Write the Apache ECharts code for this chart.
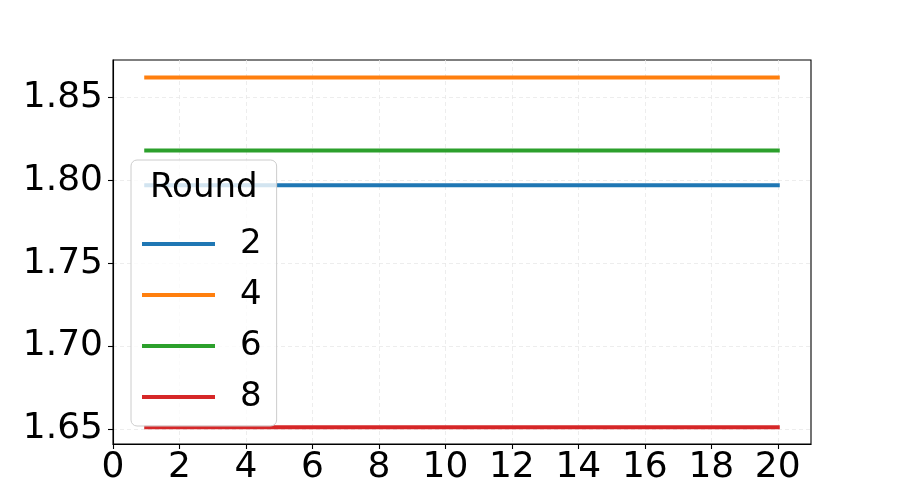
<!DOCTYPE html>
<html>
<head>
<meta charset="utf-8">
<script src="https://cdn.jsdelivr.net/npm/echarts@6/dist/echarts.min.js"></script>
<style>html,body{margin:0;padding:0;background:#fff}#c{width:900px;height:500px}</style>
</head>
<body>
<div id="c"></div>
<script>
const steps = [1,2,3,4,5,6,7,8,9,10,11,12,13,14,15,16,17,18,19,20];
const roundNames = ['2','4','6','8'];
const round2 = [1.797,1.797,1.797,1.797,1.797,1.797,1.797,1.797,1.797,1.797,1.797,1.797,1.797,1.797,1.797,1.797,1.797,1.797,1.797,1.797];
const round4 = [1.862,1.862,1.862,1.862,1.862,1.862,1.862,1.862,1.862,1.862,1.862,1.862,1.862,1.862,1.862,1.862,1.862,1.862,1.862,1.862];
const round6 = [1.818,1.818,1.818,1.818,1.818,1.818,1.818,1.818,1.818,1.818,1.818,1.818,1.818,1.818,1.818,1.818,1.818,1.818,1.818,1.818];
const round8 = [1.651,1.651,1.651,1.651,1.651,1.651,1.651,1.651,1.651,1.651,1.651,1.651,1.651,1.651,1.651,1.651,1.651,1.651,1.651,1.651];
const xTicks = [0,2,4,6,8,10,12,14,16,18,20];
const yTicks = [1.65,1.70,1.75,1.80,1.85];
const colors = ['#1f77b4','#ff7f0e','#2ca02c','#d62728'];
const seriesValues = [round2, round4, round6, round8];

const font = 'DejaVu Sans';
const chart = echarts.init(document.getElementById('c'), null, {renderer:'canvas'});
const gridLine = {show:true, lineStyle:{color:'#e8e8e8', width:0.8, type:[4,3]}};
chart.setOption({
  animation:false,
  color: colors,
  textStyle:{fontFamily:font},
  grid:{left:113, right:89, top:60, bottom:56, show:true, borderColor:'#000', borderWidth:1.1, backgroundColor:'transparent'},
  xAxis:{
    type:'value', min:0, max:21,
    axisLine:{show:true, onZero:false, lineStyle:{color:'#000', width:1.1}},
    axisTick:{show:true, length:5, lineStyle:{color:'#000', width:1.1}, customValues:xTicks},
    axisLabel:{fontSize:36, color:'#000', fontFamily:font, margin:6, customValues:xTicks},
    splitLine:Object.assign({customValues:xTicks}, gridLine)
  },
  yAxis:{
    type:'value', min:1.6409, max:1.8726,
    axisLine:{show:true, onZero:false, lineStyle:{color:'#000', width:1.1}},
    axisTick:{show:true, length:5, lineStyle:{color:'#000', width:1.1}, customValues:yTicks},
    axisLabel:{fontSize:36, color:'#000', fontFamily:font, margin:10, customValues:yTicks, formatter:v=>v.toFixed(2)},
    splitLine:Object.assign({customValues:yTicks}, gridLine)
  },
  legend:{
    orient:'vertical', left:131, top:160,
    padding:[67,15,12,11],
    itemWidth:73, itemHeight:34, itemGap:17,
    icon:'path://M0,0M73,34M0,15L73,15L73,19L0,19Z',
    backgroundColor:'rgba(255,255,255,0.8)',
    borderColor:'#cccccc', borderWidth:1, borderRadius:6,
    textStyle:{fontSize:34, lineHeight:34, color:'#000', fontFamily:font, padding:[0,0,0,20]},
    data: roundNames
  },
  graphic:[{type:'text', z:100, left:150, top:171, style:{text:'Round', fontSize:34, fontFamily:font, fill:'#000'}}],
  series: roundNames.map((n,i)=>({
    name:n, type:'line', symbol:'none', showSymbol:false,
    lineStyle:{width:4, color:colors[i], cap:'square'},
    itemStyle:{color:colors[i]},
    data: steps.map((s,j)=>[s, seriesValues[i][j]])
  }))
});
</script>
</body>
</html>
